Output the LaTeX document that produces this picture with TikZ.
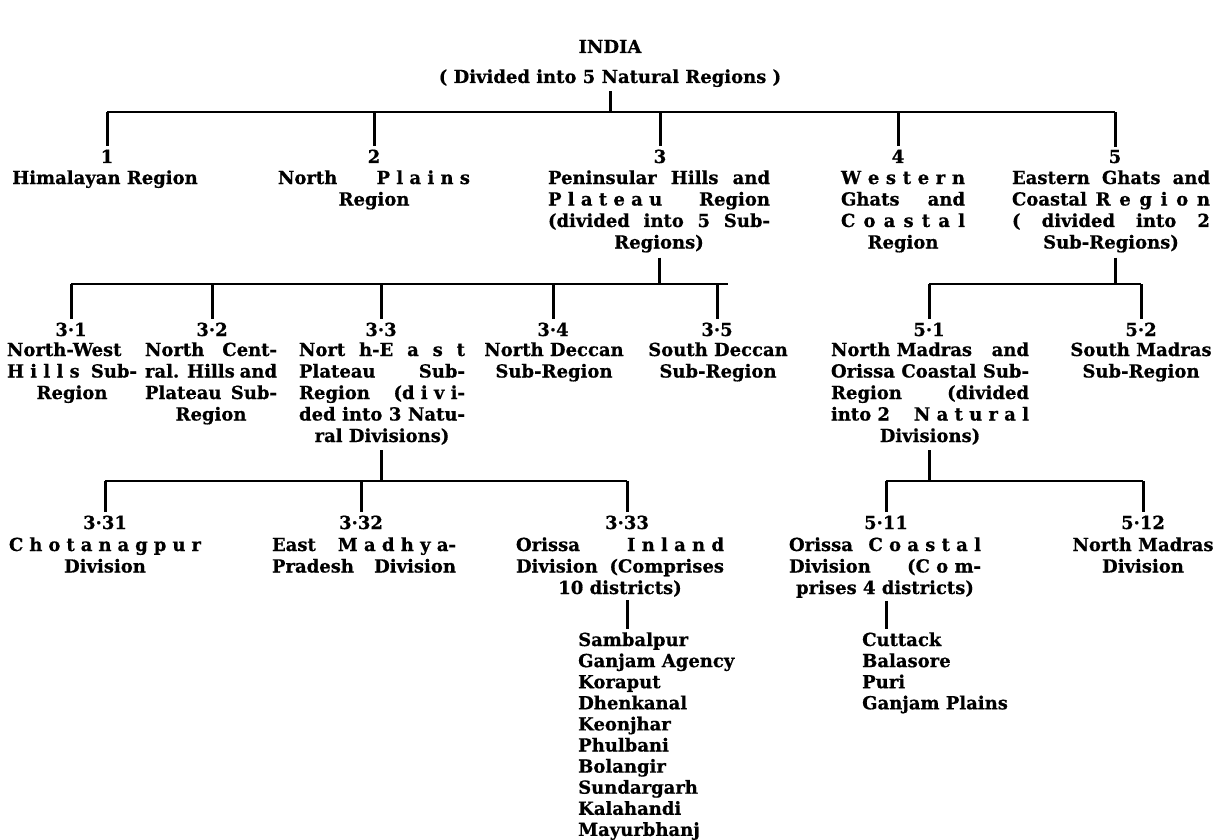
\documentclass[tikz,border=0pt]{standalone}
\usepackage{fontspec}
\setmainfont{DejaVu Serif}[BoldFeatures={FakeBold=0.6}]
\newcommand\J[1]{\makebox[\linewidth][s]{#1}}
\newcommand\lab[2]{\parbox[t]{#1}{\centering #2}}
\tikzset{
  txt/.style={font=\fontsize{18}{21.5}\selectfont\bfseries, inner sep=0pt, anchor=base},
  lst/.style={font=\fontsize{18}{21.1}\selectfont\bfseries, inner sep=0pt, anchor=base west},
  bar/.style={line width=2.3pt},
  drop/.style={line width=3pt},
}
\begin{document}
\begin{tikzpicture}[x=1pt,y=-1pt]
\fill[white] (0,0) rectangle (1221,840);
\useasboundingbox (0,0) rectangle (1221,840);

% title
\node[txt] (title) at (610,53) {INDIA};
\node[txt] (root) at (610,83) {( Divided into 5 Natural Regions )};
\coordinate (b1) at (0,112);
\coordinate (b2) at (0,284);
\coordinate (b3) at (0,481);

% level 1
\node[txt] (n1) at (107,163) {1};
\node[txt] (n2) at (374,163) {2};
\node[txt] (n3) at (660,163) {3};
\node[txt] (n4) at (898,163) {4};
\node[txt] (n5) at (1115,163) {5};
\node[txt] (l1) at (105,184) {Himalayan Region};
\node[txt] (l2) at (374,184) {\lab{192pt}{\J{North\hfill P l a i n s}\\Region}};
\node[txt] (l3) at (659,184) {\lab{222pt}{\J{Peninsular Hills and}\\\J{P l a t e a u\hfill Region}\\\J{(divided into 5 Sub-}\\Regions)}};
\node[txt] (l4) at (903,184) {\lab{124pt}{\J{W e s t e r n}\\\J{Ghats and}\\\J{C o a s t a l}\\Region}};
\node[txt] (l5) at (1111,184) {\lab{198pt}{\J{Eastern Ghats and}\\\J{Coastal R e g i o n}\\\J{( divided into 2}\\Sub-Regions)}};

\draw[drop, shorten <=4pt] (root.south) -- (root |- b1);
\draw[bar] (n1 |- b1) -- (n5 |- b1);
\foreach \n in {n1,n2,n3,n4,n5} \draw[drop, shorten >=3pt] (\n |- b1) -- (\n.north);

% level 2 (region 3)
\node[txt] (m31) at (71,336) {3·1};
\node[txt] (m32) at (212,336) {3·2};
\node[txt] (m33) at (381,336) {3·3};
\node[txt] (m34) at (553,336) {3·4};
\node[txt] (m35) at (717,336) {3·5};
\node[txt] (k31) at (72,356) {\lab{130pt}{\J{North-West}\\\J{H i l l s\hfill Sub-}\\Region}};
\node[txt] (k32) at (211,356) {\lab{132pt}{\J{North\hfill Cent-}\\\J{ral. Hills and}\\\J{Plateau Sub-}\\Region}};
\node[txt] (k33) at (382,356) {\lab{166pt}{\J{Nort h-E a s t}\\\J{Plateau\hfill Sub-}\\\J{Region\hfill (d i v i-}\\\J{ded into 3 Natu-}\\ral Divisions)}};
\node[txt] (k34) at (554,356) {\lab{150pt}{North Deccan\\Sub-Region}};
\node[txt] (k35) at (718,356) {\lab{150pt}{South Deccan\\Sub-Region}};
\coordinate (b2e) at (728,284);

\draw[drop, shorten <=5pt] (l3.south) -- (l3.south |- b2);
\draw[bar] (m31 |- b2) -- (b2e);
\foreach \n in {m31,m32,m33,m34,m35} \draw[drop, shorten >=3pt] (\n |- b2) -- (\n.north);

% level 2 (region 5)
\node[txt] (m51) at (929,336) {5·1};
\node[txt] (m52) at (1141,336) {5·2};
\node[txt] (k51) at (930,356) {\lab{198pt}{\J{North Madras\hfill and}\\\J{Orissa Coastal Sub-}\\\J{Region\hfill (divided}\\\J{into 2\hfill N a t u r a l}\\Divisions)}};
\node[txt] (k52) at (1141,356) {\lab{160pt}{South Madras\\Sub-Region}};

\draw[drop, shorten <=5pt] (l5.south -| n5) -- (n5 |- b2);
\draw[bar] (m51 |- b2) -- (m52 |- b2);
\foreach \n in {m51,m52} \draw[drop, shorten >=3pt] (\n |- b2) -- (\n.north);

% level 3 (sub-region 3.3)
\node[txt] (p331) at (105,529) {3·31};
\node[txt] (p332) at (361,529) {3·32};
\node[txt] (p333) at (627,529) {3·33};
\node[txt] (q331) at (105,551) {\lab{192pt}{\J{C h o t a n a g p u r}\\Division}};
\node[txt] (q332) at (364,551) {\lab{184pt}{\J{East\hfill M a d h y a-}\\\J{Pradesh\hfill Division}}};
\node[txt] (q333) at (620,551) {\lab{208pt}{\J{Orissa\hfill I n l a n d}\\\J{Division (Comprises}\\10 districts)}};

\draw[drop, shorten <=5pt] (k33.south -| m33) -- (m33 |- b3);
\draw[bar] (p331 |- b3) -- (p333 |- b3);
\foreach \n in {p331,p332,p333} \draw[drop, shorten >=3pt] (\n |- b3) -- (\n.north);

% level 3 (sub-region 5.1)
\node[txt] (p511) at (886,529) {5·11};
\node[txt] (p512) at (1143,529) {5·12};
\node[txt] (q511) at (885,551) {\lab{192pt}{\J{Orissa\hfill C o a s t a l}\\\J{Division\hfill (C o m-}\\prises 4 districts)}};
\node[txt] (q512) at (1143,551) {\lab{160pt}{North Madras\\Division}};

\draw[drop, shorten <=5pt] (k51.south -| m51) -- (m51 |- b3);
\draw[bar] (p511 |- b3) -- (p512 |- b3);
\foreach \n in {p511,p512} \draw[drop, shorten >=3pt] (\n |- b3) -- (\n.north);

% districts
\node[lst] (dA) at (578,646) {\parbox[t]{170pt}{Sambalpur\\Ganjam Agency\\Koraput\\Dhenkanal\\Keonjhar\\Phulbani\\Bolangir\\Sundargarh\\Kalahandi\\Mayurbhanj}};
\node[lst] (dB) at (862,646) {\parbox[t]{170pt}{Cuttack\\Balasore\\Puri\\Ganjam Plains}};

\draw[drop, shorten <=3pt, shorten >=3pt] (p333 |- q333.south) -- (p333 |- dA.north);
\draw[drop, shorten <=3pt, shorten >=3pt] (p511 |- q511.south) -- (p511 |- dB.north);
\end{tikzpicture}
\end{document}
